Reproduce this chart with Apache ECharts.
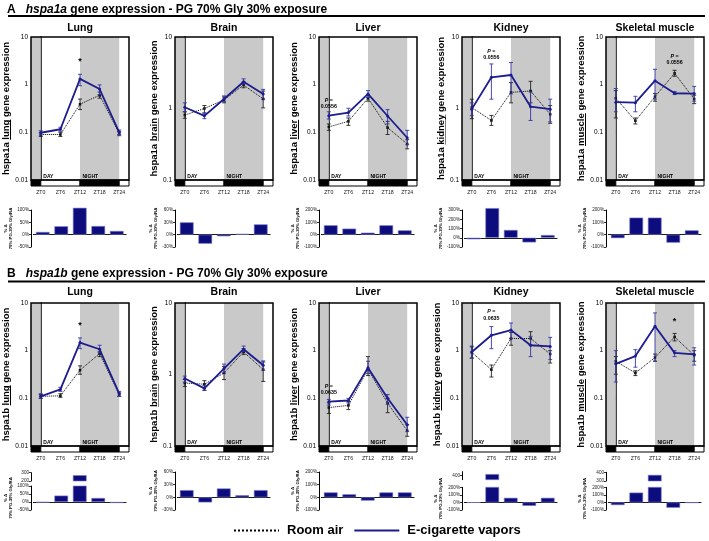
<!DOCTYPE html>
<html><head><meta charset="utf-8">
<script src="https://cdn.jsdelivr.net/npm/echarts@6/dist/echarts.min.js"></script>
<style>html,body{margin:0;padding:0;background:#fff}#c{width:709px;height:541px}</style>
</head><body><div id="c"></div>
<script>
// ---------------- DATA ----------------
const zt = [0, 6, 12, 18, 24];
const ztLabels = ['ZT0', 'ZT6', 'ZT12', 'ZT18', 'ZT24'];
const tissues = ['Lung', 'Brain', 'Liver', 'Kidney', 'Skeletal muscle'];
const tissueWords = ['lung', 'brain', 'liver', 'kidney', 'muscle'];
const genes = ['hspa1a', 'hspa1b'];
const panelLetters = ['A', 'B'];
const phaseStart = [-3, 0, 12, 24];
const phaseEnd = [0, 12, 24, 27];
const phaseDark = [1, 0, 1, 0];
const phaseLabels = ['', 'DAY', 'NIGHT', ''];
const yMinA = [0.01, 0.1, 0.01, 0.1, 0.01];
const yMinB = [0.01, 0.1, 0.01, 0.01, 0.01];

// hspa1a (panel A): rows = Lung, Brain, Liver, Kidney, Skeletal muscle
const hspa1aAirMean = [[0.09,0.09,0.39,0.60,0.095],[0.81,1.00,1.32,2.13,1.36],[0.13,0.17,0.52,0.125,0.057],[1.03,0.68,1.68,1.76,0.83],[0.52,0.175,0.56,1.73,0.50]];
const hspa1aAirLow  = [[0.082,0.082,0.30,0.52,0.085],[0.73,0.86,1.20,1.95,1.02],[0.11,0.14,0.45,0.09,0.045],[0.72,0.58,1.20,1.20,0.62],[0.20,0.15,0.45,1.50,0.40]];
const hspa1aAirHigh = [[0.10,0.10,0.50,0.70,0.105],[0.90,1.10,1.45,2.35,1.75],[0.15,0.20,0.60,0.17,0.07],[1.35,0.80,2.30,2.40,1.10],[0.75,0.20,0.65,2.00,0.60]];
const hspa1aEcigMean = [[0.098,0.116,1.32,0.81,0.10],[1.04,0.79,1.36,2.37,1.60],[0.224,0.26,0.64,0.22,0.077],[0.98,2.73,2.94,1.06,0.98],[0.43,0.42,1.21,0.66,0.65]];
const hspa1aEcigLow  = [[0.088,0.105,0.95,0.62,0.09],[0.90,0.72,1.25,2.20,1.35],[0.19,0.22,0.54,0.15,0.055],[0.80,1.35,1.60,0.68,0.65],[0.27,0.27,0.50,0.62,0.45]];
const hspa1aEcigHigh = [[0.108,0.128,1.65,0.99,0.112],[1.20,0.87,1.50,2.60,1.85],[0.27,0.32,0.75,0.30,0.11],[1.20,4.20,4.40,1.70,1.35],[0.83,0.57,2.10,0.72,0.92]];

// hspa1b (panel B)
const hspa1bAirMean = [[0.11,0.113,0.39,0.87,0.12],[0.76,0.73,1.05,2.07,1.17],[0.064,0.071,0.41,0.079,0.021],[0.92,0.40,1.80,1.80,0.85],[0.60,0.34,0.72,1.94,0.80]];
const hspa1bAirLow  = [[0.10,0.105,0.32,0.75,0.11],[0.68,0.60,0.85,1.90,0.80],[0.048,0.058,0.30,0.05,0.016],[0.70,0.28,1.30,1.30,0.55],[0.32,0.30,0.60,1.60,0.60]];
const hspa1bAirHigh = [[0.12,0.125,0.48,0.95,0.13],[0.85,0.82,1.30,2.30,1.50],[0.08,0.085,0.75,0.10,0.028],[1.20,0.50,2.40,2.50,1.00],[0.75,0.38,0.85,2.30,1.00]];
const hspa1bEcigMean = [[0.11,0.154,1.48,1.07,0.125],[0.88,0.64,1.21,2.26,1.35],[0.085,0.09,0.44,0.10,0.028],[0.94,2.10,2.70,1.30,1.23],[0.53,0.77,3.25,0.90,0.84]];
const hspa1bEcigLow  = [[0.10,0.14,1.10,0.90,0.11],[0.78,0.60,1.05,2.10,1.15],[0.072,0.08,0.33,0.075,0.02],[0.70,1.10,1.80,0.75,0.65],[0.22,0.45,0.60,0.75,0.50]];
const hspa1bEcigHigh = [[0.125,0.17,1.85,1.30,0.14],[0.95,0.70,1.40,2.50,1.55],[0.095,0.10,0.60,0.12,0.04],[1.25,3.20,3.80,2.00,1.90],[1.00,1.05,6.20,1.00,1.15]];

// % change 70% PG-30% Gly vs room air
const deltaA = [[11,34,109,35,15],[30,-22,-4,2,25],[76,49,16,76,35],[-17,320,84,-50,29],[-28,138,138,-65,35]];
const deltaB = [[-3,40,270,25,-6],[17,-12,21,5,17],[39,24,-26,39,39],[-2,440,61,-45,61],[-35,130,370,-70,-5]];
// delta axis ticks [min, max, interval]
const deltaAxisA = [[-50,100,50],[-30,60,30],[-100,200,100],[-100,300,100],[-100,200,100]];
const deltaAxisB = [[-50,100,50],[-30,60,30],[-100,200,100],[-100,200,100],[-100,200,100]];
const deltaUpperB = [[200,300,100], null, null, [300,500,100], [300,400,100]];

// annotations: [gene, tissue, ZT, y value, text]
const annotations = [
  [0,0,12,3.0,'*'], [0,2,0,0.40,'{i|P} =\n0.0556'], [0,3,6,5.7,'{i|P} =\n0.0556'], [0,4,18,3.37,'{i|P} =\n0.0556'],
  [1,0,12,3.4,'*'], [1,2,0,0.154,'{i|P} =\n0.0635'], [1,3,6,5.65,'{i|P} =\n0.0635'], [1,4,18,4.0,'*']
];
const legendNames = ['Room air', 'E-cigarette vapors'];

// ---------------- LAYOUT / STYLE ----------------
const FONT = 'Liberation Sans, Arial, sans-serif';
const NAVY = '#1c1c8e';
const ERRNAVY = '#3535a8';
const BARNAVY = '#0c0c7c';
const GRAY = '#c9c9c9';
const colLeft = [31, 175, 319, 462, 606];
const plotW = 98;
const rows = [
  {titleTop: 1, ruleY: 16, pTitleTop: 22.5, lineTop: 37, stripTop: 180, barTop: 210, barH: 37,
   lower: [null,null,null,null,null], upper: [null,null,null,null,null]},
  {titleTop: 264.5, ruleY: 281.5, pTitleTop: 287, lineTop: 303, stripTop: 446, barTop: 472, barH: 38,
   lower: [[486,24],null,null,[487.3,22.7],[487.3,22.7]], upper: [[472.7,8.3],null,null,[471.7,8],[472.3,8.7]]}
];
const geneSets = [
  {airM: hspa1aAirMean, airLo: hspa1aAirLow, airHi: hspa1aAirHigh, ecM: hspa1aEcigMean, ecLo: hspa1aEcigLow, ecHi: hspa1aEcigHigh, yMin: yMinA, delta: deltaA, dAxis: deltaAxisA, dUpper: [null,null,null,null,null]},
  {airM: hspa1bAirMean, airLo: hspa1bAirLow, airHi: hspa1bAirHigh, ecM: hspa1bEcigMean, ecLo: hspa1bEcigLow, ecHi: hspa1bEcigHigh, yMin: yMinB, delta: deltaB, dAxis: deltaAxisB, dUpper: deltaUpperB}
];

// underline image for rich text
const ulCanvas = document.createElement('canvas');
ulCanvas.width = 4; ulCanvas.height = 40;
(function(){ const c = ulCanvas.getContext('2d'); c.fillStyle = '#000'; c.fillRect(0, 35, 4, 3); })();

const grid = [], xAxis = [], yAxis = [], series = [], title = [], graphic = [];

function errSeries(xi, lo, hi, color) {
  return {type: 'custom', xAxisIndex: xi, yAxisIndex: xi, z: 4, silent: true,
    data: zt.map((x, i) => [x, lo[i], hi[i]]), encode: {x: 0, y: [1, 2]},
    renderItem: (params, api) => {
      const x = api.value(0);
      const a = api.coord([x, api.value(1)]), b = api.coord([x, api.value(2)]);
      const mk = () => ({stroke: color, lineWidth: 0.9});
      return {type: 'group', children: [
        {type: 'line', shape: {x1: a[0], y1: a[1], x2: b[0], y2: b[1]}, style: mk()},
        {type: 'line', shape: {x1: a[0]-2, y1: a[1], x2: a[0]+2, y2: a[1]}, style: mk()},
        {type: 'line', shape: {x1: b[0]-2, y1: b[1], x2: b[0]+2, y2: b[1]}, style: mk()}
      ]};
    }};
}

for (let g = 0; g < 2; g++) {
  const R = rows[g], D = geneSets[g];
  title.push({text: '{b|' + panelLetters[g] + '}  {i|' + genes[g] + '}{b| gene expression - PG 70% Gly 30% exposure}',
    left: 7, top: R.titleTop, padding: 0,
    textStyle: {rich: {b: {fontSize: 12, fontWeight: 'bold', fontFamily: FONT, color: '#000'},
                       i: {fontSize: 12, fontWeight: 'bold', fontStyle: 'italic', fontFamily: FONT, color: '#000'}}}});
  graphic.push({type: 'line', shape: {x1: 8, y1: R.ruleY, x2: 705, y2: R.ruleY}, style: {stroke: '#000', lineWidth: 2}});

  for (let t = 0; t < 5; t++) {
    const L = colLeft[t];
    title.push({text: tissues[t], left: L + plotW / 2, top: R.pTitleTop, textAlign: 'center', padding: 0,
      textStyle: {fontSize: 10.5, fontWeight: 'bold', fontFamily: FONT, color: '#000'}});

    // ---- line plot ----
    const xi = grid.length;
    grid.push({left: L, top: R.lineTop, width: plotW, height: R.stripTop - R.lineTop, show: true,
      backgroundColor: 'transparent', borderColor: '#000', borderWidth: 1.5, z: 6});
    xAxis.push({type: 'value', gridIndex: xi, min: -3, max: 27, show: false});
    const nm = {fontSize: 9.5, fontWeight: 'bold', fontFamily: FONT, color: '#000'};
    yAxis.push({type: 'log', logBase: 10, gridIndex: xi, min: D.yMin[t], max: 10,
      axisLine: {show: true, lineStyle: {color: '#000', width: 1.5}},
      axisTick: {show: true, length: 3, lineStyle: {color: '#000', width: 1}},
      minorTick: {show: false},
      splitLine: {show: false},
      axisLabel: {fontSize: 6.5, color: '#000', margin: 3, fontFamily: FONT, formatter: v => String(+(+v).toPrecision(3))},
      name: '{n|' + genes[g] + ' }{u|' + tissueWords[t] + '}{n| gene expression}',
      nameLocation: 'middle', nameRotate: 90, nameGap: 16,
      nameTextStyle: {rich: {n: nm, u: Object.assign({}, nm, {backgroundColor: {image: ulCanvas}})}}});

    // shading + DAY/NIGHT labels
    series.push({type: 'custom', xAxisIndex: xi, yAxisIndex: xi, z: 1, silent: true,
      data: phaseStart.map((s, i) => [s, phaseEnd[i], phaseDark[i], 1, i]), encode: {x: [0, 1], y: 3},
      renderItem: (params, api) => {
        const cs = params.coordSys;
        const x0 = api.coord([api.value(0), 1])[0], x1 = api.coord([api.value(1), 1])[0];
        const children = [];
        if (api.value(2) === 1) children.push({type: 'rect', shape: {x: x0, y: cs.y, width: x1 - x0, height: cs.height}, style: {fill: GRAY}});
        const lab = phaseLabels[api.value(4)];
        if (lab) children.push({type: 'text', x: x0 + 2.5, y: cs.y + cs.height - 1.2,
          style: {text: lab, fontSize: 5, fontWeight: 'bold', fontFamily: FONT, fill: '#000', align: 'left', verticalAlign: 'bottom'}});
        return {type: 'group', children};
      }});
    // room air
    series.push({type: 'line', name: 'air' + g + t, xAxisIndex: xi, yAxisIndex: xi, z: 3, silent: true,
      data: zt.map((x, i) => [x, D.airM[t][i]]), symbol: 'rect', symbolSize: 2.5,
      itemStyle: {color: '#000'}, lineStyle: {color: '#000', width: 1, type: 'dotted'}});
    series.push(errSeries(xi, D.airLo[t], D.airHi[t], '#222'));
    // e-cig
    series.push({type: 'line', name: 'ecig' + g + t, xAxisIndex: xi, yAxisIndex: xi, z: 5, silent: true,
      data: zt.map((x, i) => [x, D.ecM[t][i]]), symbol: 'circle', symbolSize: 3,
      itemStyle: {color: NAVY}, lineStyle: {color: NAVY, width: 1.8}});
    series.push(errSeries(xi, D.ecLo[t], D.ecHi[t], ERRNAVY));
    // annotations
    const ann = annotations.filter(a => a[0] === g && a[1] === t);
    if (ann.length) {
      series.push({type: 'custom', xAxisIndex: xi, yAxisIndex: xi, z: 7, silent: true,
        data: ann.map((a, k) => [a[2], a[3], k]), encode: {x: 0, y: 1},
        renderItem: (params, api) => {
          const p = api.coord([api.value(0), api.value(1)]);
          const txt = ann[api.value(2)][4];
          const star = txt === '*';
          return {type: 'text', x: p[0], y: p[1], style: {text: txt, fontSize: star ? 9 : 5.3, fontWeight: 'bold',
            fontFamily: FONT, fill: '#000', align: 'center', verticalAlign: 'middle', lineHeight: star ? 9 : 6.5,
            rich: {i: {fontStyle: 'italic', fontWeight: 'bold', fontSize: 5.3, fontFamily: FONT, fill: '#000'}}}};
        }});
    }

    // ---- light schedule strip ----
    const si = grid.length;
    grid.push({left: L, top: R.stripTop, width: plotW, height: 6});
    xAxis.push({type: 'value', gridIndex: si, min: -3, max: 27, interval: 3,
      axisLine: {show: false}, axisTick: {show: false}, splitLine: {show: false},
      axisLabel: {fontSize: 5.2, color: '#222', margin: 4, fontFamily: FONT,
        formatter: v => { const k = zt.indexOf(v); return k >= 0 ? ztLabels[k] : ''; }}});
    yAxis.push({type: 'value', gridIndex: si, min: 0, max: 1, show: false});
    series.push({type: 'custom', xAxisIndex: si, yAxisIndex: si, silent: true,
      data: phaseStart.map((s, i) => [s, phaseEnd[i], phaseDark[i], 1]), encode: {x: [0, 1], y: 3},
      renderItem: (params, api) => {
        const a = api.coord([api.value(0), 1]), b = api.coord([api.value(1), 0]);
        return {type: 'rect', shape: {x: a[0], y: a[1], width: b[0] - a[0], height: b[1] - a[1]},
          style: {fill: api.value(2) === 1 ? '#000' : '#fff', stroke: '#000', lineWidth: 1}};
      }});

    // ---- delta bars ----
    const up = D.dUpper[t];
    const lowerBox = R.lower[t] || [R.barTop, R.barH];
    const bi = grid.length;
    grid.push({left: L + 2.5, top: lowerBox[0], width: 92.5, height: lowerBox[1]});
    xAxis.push({type: 'category', gridIndex: bi, data: ztLabels, boundaryGap: true,
      axisLine: {show: true, onZero: true, lineStyle: {color: '#000', width: 1, type: 'dotted'}},
      axisTick: {show: false}, axisLabel: {show: false}, splitLine: {show: false}});
    const da = D.dAxis[t];
    yAxis.push({type: 'value', gridIndex: bi, min: da[0], max: da[1], interval: da[2], offset: 2.5,
      axisLine: {show: true, lineStyle: {color: '#000', width: 1}},
      axisTick: {show: true, length: 2, lineStyle: {color: '#000', width: 0.8}},
      splitLine: {show: false},
      axisLabel: {fontSize: 4.6, color: '#222', margin: 2, fontFamily: FONT, formatter: v => v + '%'},
      name: '% Δ\n70% PG-30% Gly/RA', nameLocation: 'middle', nameRotate: 90, nameGap: 14,
      nameTextStyle: {fontSize: 4.3, fontWeight: 'bold', fontFamily: FONT, color: '#000', lineHeight: 5}});
    series.push({type: 'bar', xAxisIndex: bi, yAxisIndex: bi, data: D.delta[t], barWidth: '74%', clip: !!up, silent: true,
      itemStyle: {color: BARNAVY, borderColor: '#7a7ad2', borderWidth: 0.6}});

    if (up) {
      const ub = R.upper[t];
      const ui = grid.length;
      grid.push({left: L + 2.5, top: ub[0], width: 92.5, height: ub[1]});
      xAxis.push({type: 'category', gridIndex: ui, data: ztLabels, boundaryGap: true, show: false});
      yAxis.push({type: 'value', gridIndex: ui, min: up[0], max: up[1], interval: up[2], offset: 2.5,
        axisLine: {show: true, lineStyle: {color: '#000', width: 1}},
        axisTick: {show: true, length: 2, lineStyle: {color: '#000', width: 0.8}},
        splitLine: {show: false},
        axisLabel: {fontSize: 4.6, color: '#222', margin: 2, fontFamily: FONT, formatter: v => String(v)}});
      series.push({type: 'bar', xAxisIndex: ui, yAxisIndex: ui, data: D.delta[t], barWidth: '74%', clip: true, silent: true,
        itemStyle: {color: BARNAVY, borderColor: '#7a7ad2', borderWidth: 0.6}});
    }
  }
}

// legend-only series
series.push({type: 'line', name: legendNames[0], xAxisIndex: 0, yAxisIndex: 0, data: [], symbol: 'none',
  lineStyle: {color: '#000', width: 1.8, type: 'dotted'}, itemStyle: {color: '#000'}});
series.push({type: 'line', name: legendNames[1], xAxisIndex: 0, yAxisIndex: 0, data: [], symbol: 'none',
  lineStyle: {color: NAVY, width: 2.5}, itemStyle: {color: NAVY}});

const chart = echarts.init(document.getElementById('c'), null, {renderer: 'canvas'});
chart.setOption({
  animation: false,
  backgroundColor: '#fff',
  title, grid, xAxis, yAxis, series, graphic,
  legend: {data: legendNames, left: 233, top: 524, padding: 0, itemWidth: 45, itemHeight: 14, itemGap: 10, selectedMode: false,
    itemStyle: {opacity: 0, borderWidth: 0},
    textStyle: {fontSize: 13, fontWeight: 'bold', fontFamily: FONT, color: '#000', padding: [0, 0, 0, 3]}}
});
</script></body></html>
